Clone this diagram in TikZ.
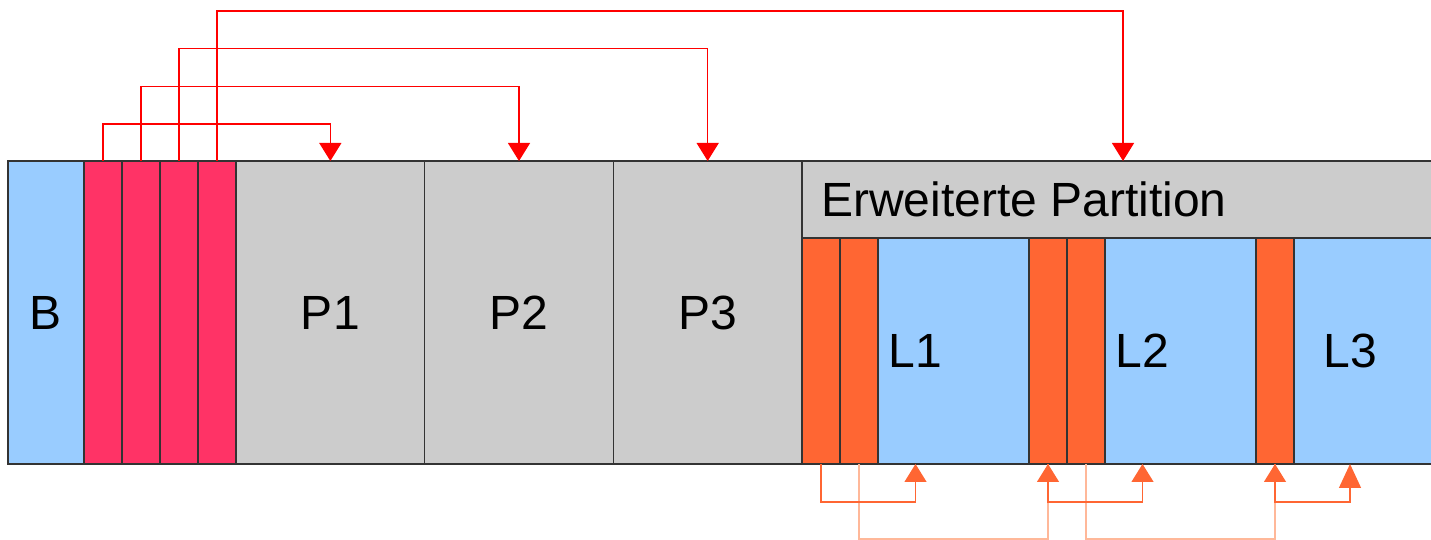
\documentclass[tikz,border=0pt]{standalone}
\usepackage{fontspec}
\setmainfont{Liberation Sans}
\usetikzlibrary{positioning,arrows.meta}
\definecolor{bootblue}{HTML}{99CCFF}
\definecolor{mbrred}{HTML}{FF3366}
\definecolor{partgray}{HTML}{CCCCCC}
\definecolor{linkred}{HTML}{FF0000}
\definecolor{ebrorange}{HTML}{FF6633}
\definecolor{ebrpale}{HTML}{FFB899}
\tikzstyle{partbox} = [draw=black!80, line width=1.3pt, rectangle, inner sep=0pt, outer sep=0pt, anchor=south west, font=\fontsize{48}{58}\selectfont]
\tikzstyle{boot} = [partbox, fill=bootblue, minimum width=76pt, minimum height=303pt]
\tikzstyle{mbr} = [partbox, fill=mbrred, minimum width=38pt, minimum height=303pt]
\tikzstyle{primary} = [partbox, fill=partgray, minimum width=188.67pt, minimum height=303pt]
\tikzstyle{extended} = [partbox, fill=partgray, minimum width=642pt, minimum height=77pt]
\tikzstyle{logical} = [partbox, fill=bootblue, minimum height=226pt]
\tikzstyle{ebr} = [partbox, fill=ebrorange, minimum width=38pt, minimum height=226pt]
\tikzstyle{mbrlink} = [draw=linkred, line width=1.3pt, -{Triangle[width=22pt,length=18pt,color=linkred]}]
\tikzstyle{ebrlink} = [draw=ebrorange, line width=1.3pt, -{Triangle[width=22pt,length=18pt,color=ebrorange]}]
\tikzstyle{ebrnext} = [draw=ebrpale, line width=1.3pt, -{Triangle[width=22pt,length=18pt,color=ebrorange]}]

\begin{document}
\begin{tikzpicture}[x=1pt,y=1pt]
  \clip (0,0) rectangle (1431,540);
  % MBR and primary partitions
  \node[boot] (B) at (8,76) {B};
  \node[mbr, right=0pt of B] (mbr1) {};
  \node[mbr, right=0pt of mbr1] (mbr2) {};
  \node[mbr, right=0pt of mbr2] (mbr3) {};
  \node[mbr, right=0pt of mbr3] (mbr4) {};
  \node[primary, right=0pt of mbr4] (P1) {P1};
  \node[primary, right=0pt of P1] (P2) {P2};
  \node[primary, right=0pt of P2] (P3) {P3};
  % extended partition
  \node[extended] (ext) at (802,302) {};
  \node[font=\fontsize{48}{58}\selectfont, inner sep=0pt, anchor=west] (exttitle) at ([xshift=19pt]ext.west) {Erweiterte Partition};
  \node[logical, minimum width=227pt] (L1) at (802,76) {L1};
  \node[logical, minimum width=227pt] (L2) at (L1.south east) {L2};
  \node[logical, minimum width=188pt] (L3) at (L2.south east) {L3};
  \node[ebr] (ebr1a) at (L1.south west) {};
  \node[ebr, right=0pt of ebr1a] (ebr1b) {};
  \node[ebr] (ebr2a) at (L2.south west) {};
  \node[ebr, right=0pt of ebr2a] (ebr2b) {};
  \node[ebr] (ebr3) at (L3.south west) {};
  % partition table entries
  \draw[mbrlink] (mbr1.north) -- ++(0,37) -| (P1.north);
  \draw[mbrlink] (mbr2.north) -- ++(0,74.7) -| (P2.north);
  \draw[mbrlink] (mbr3.north) -- ++(0,112.3) -| (P3.north);
  \draw[mbrlink] (mbr4.north) -- ++(0,150) -| (ext.north);
  % EBR chain
  \draw[ebrnext] (ebr1b.south) -- ++(0,-75) -| (ebr2a.south);
  \draw[ebrnext] (ebr2b.south) -- ++(0,-75) -| (ebr3.south);
  \draw[ebrlink] (ebr1a.south) -- ++(0,-38) -| (L1.south);
  \draw[ebrlink] (ebr2a.south) -- ++(0,-38) -| (L2.south);
  \draw[ebrlink, -{Triangle[width=22pt,length=24pt,color=ebrorange]}] (ebr3.south) -- ++(0,-38) -| (L3.south);
\end{tikzpicture}
\end{document}
